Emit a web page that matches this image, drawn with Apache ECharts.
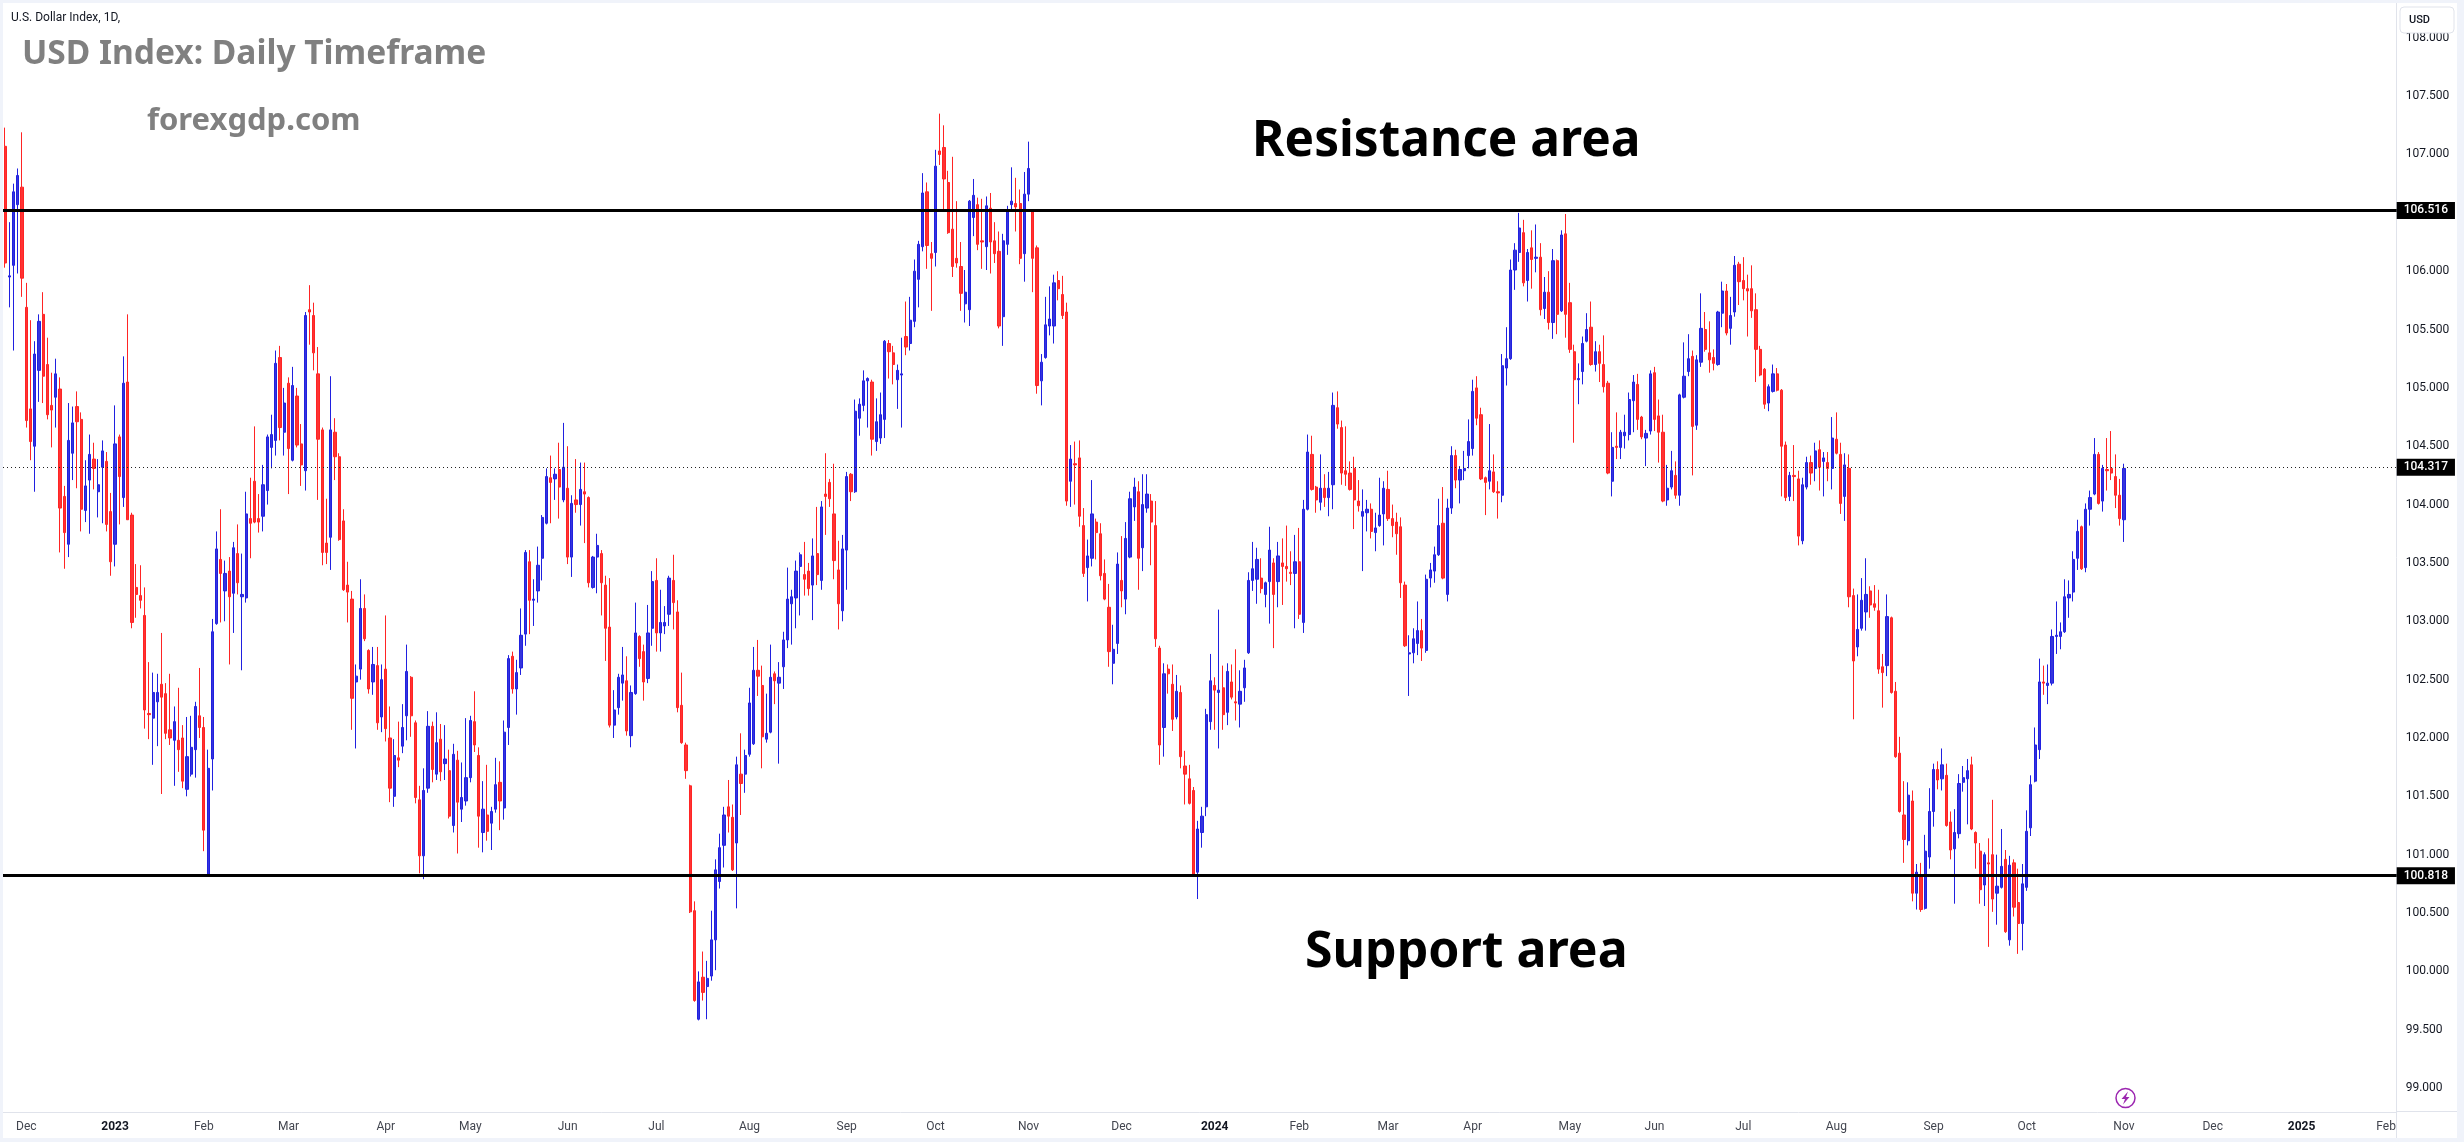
<!DOCTYPE html>
<html>
<head>
    <meta charset="UTF-8">
    <title>USD Index: Daily Timeframe</title>
    <script src="https://cdn.jsdelivr.net/npm/echarts@6/dist/echarts.min.js"></script>
    <style>
        html, body { margin: 0; padding: 0; background: #fff; }
        #main { width: 2464px; height: 1142px; }
    </style>
</head>
<body>
<div id="main"></div>
<script>
    // open, close, low, high of each daily bar
    var opens = [
        107.07,105.95,106.05,106.57,106.72,105.69,104.82,104.50,105.15,105.63,
        105.20,104.85,104.92,104.99,104.07,103.66,104.44,104.84,104.73,103.95,
        104.21,104.39,104.11,104.32,104.37,103.94,103.66,104.58,104.06,105.05,
        103.91,103.29,103.22,103.05,102.21,102.17,102.31,102.46,102.38,102.07,
        101.98,101.98,102.00,101.56,101.69,101.90,102.19,102.09,100.83,101.82,
        102.98,103.53,103.26,103.43,103.24,103.58,103.21,103.20,103.88,104.20,
        103.88,103.90,104.12,104.49,104.55,105.26,104.62,105.04,104.38,104.93,
        104.52,104.29,105.67,105.62,105.12,104.64,103.67,103.72,104.62,104.41,
        103.86,103.31,103.19,102.48,102.59,103.11,102.75,102.48,102.62,102.18,
        102.59,102.00,101.50,101.83,101.93,102.19,102.52,102.13,101.47,100.99,
        101.57,102.10,101.69,101.99,101.78,101.72,101.25,101.81,101.39,101.46,
        101.66,102.14,101.85,101.19,101.34,101.27,101.39,101.62,101.40,102.09,
        102.70,102.42,102.60,102.89,103.51,103.18,103.26,103.54,103.84,104.23,
        104.22,104.30,104.04,104.14,103.55,104.04,104.00,104.11,104.06,103.29,
        103.55,103.58,103.31,102.95,102.11,102.26,102.47,102.49,102.02,102.38,
        102.87,102.74,102.51,102.94,103.35,102.90,102.96,103.06,103.35,103.08,
        102.28,101.94,101.59,100.52,99.59,99.95,99.87,99.96,100.27,100.77,
        101.08,101.41,101.32,101.10,101.69,101.69,101.86,101.95,102.58,102.45,
        101.99,102.05,102.55,102.47,102.61,102.84,103.15,103.20,103.47,103.40,
        103.43,103.31,103.58,103.35,104.09,104.19,103.92,103.44,103.09,103.61,
        104.26,104.11,104.74,104.85,105.06,105.05,104.54,104.57,104.73,105.38,
        105.30,105.07,105.11,105.44,105.38,105.57,105.93,106.21,106.68,106.15,
        106.16,107.03,107.06,106.76,106.36,106.11,106.04,105.72,105.67,106.46,
        106.57,106.26,106.21,106.54,106.26,106.17,105.61,106.23,106.57,106.58,
        106.58,106.15,106.66,106.51,106.20,105.06,105.26,105.53,105.53,105.92,
        105.80,105.65,104.20,104.35,104.40,103.82,103.46,103.54,103.85,103.75,
        103.41,103.12,102.64,102.81,103.35,103.19,103.55,103.98,104.11,103.63,
        103.97,104.03,103.82,102.77,102.09,102.59,102.46,102.18,102.39,101.76,
        101.65,101.55,100.85,101.19,101.41,102.14,102.45,102.39,102.43,102.22,
        102.48,102.31,102.29,102.43,102.73,103.35,103.36,103.37,103.23,103.34,
        103.50,103.34,103.50,103.47,103.42,103.41,103.51,102.99,103.96,104.43,
        104.15,104.02,104.14,104.06,104.17,104.83,104.66,104.29,104.27,104.31,
        104.03,103.90,103.93,103.96,103.76,103.82,103.92,104.13,103.88,103.85,
        103.81,103.31,102.72,102.73,102.81,102.92,102.75,103.37,103.43,103.57,
        103.84,103.23,103.97,104.42,104.21,104.29,104.42,104.48,105.00,104.77,
        104.23,104.20,104.28,104.11,104.08,105.17,105.25,106.01,106.16,106.33,
        105.92,106.20,106.11,106.12,105.68,105.82,105.56,106.09,105.66,106.32,
        105.73,105.31,105.07,105.14,105.40,105.52,105.20,105.31,105.20,105.04,
        104.20,104.50,104.49,104.59,104.60,104.89,105.03,104.75,104.57,104.63,
        105.13,104.76,104.62,104.04,104.15,104.25,104.08,104.92,105.14,105.27,
        104.68,105.22,105.50,105.30,105.26,105.20,105.64,105.83,105.51,105.65,
        106.06,105.92,105.85,105.85,105.67,105.33,105.16,104.87,104.97,105.12,
        104.98,104.51,104.07,104.25,104.22,103.69,104.15,104.36,104.31,104.47,
        104.37,104.36,104.31,104.56,104.43,104.07,104.31,103.22,102.78,102.94,
        103.08,103.26,103.15,103.09,102.61,102.62,103.03,102.40,101.87,101.34,
        101.12,101.46,100.67,100.81,100.54,100.98,101.37,101.73,101.65,101.68,
        101.28,101.05,101.18,101.62,101.65,101.77,101.19,101.03,100.74,100.93,
        101.00,100.67,100.72,100.96,100.27,100.93,100.59,100.41,100.72,101.23,
        101.63,101.90,102.48,102.45,102.47,102.87,102.87,102.91,103.20,103.25,
        103.54,103.81,103.46,103.96,104.09,104.43,104.03,104.30,104.31,104.24,
        104.08,103.87
    ];
    var closes = [
        106.07,105.96,106.68,106.82,105.94,104.72,104.54,105.29,105.57,105.10,
        104.77,104.81,105.12,103.97,103.76,104.55,104.70,104.71,103.96,104.16,
        104.43,104.31,104.17,104.46,103.83,103.51,104.52,104.24,105.04,103.87,
        102.99,103.23,103.18,102.24,102.20,102.39,102.39,102.35,102.04,102.00,
        102.14,101.90,101.63,101.84,101.92,102.27,102.09,101.21,101.74,102.91,
        103.62,103.41,103.41,103.21,103.63,103.33,103.23,103.92,103.84,103.85,
        103.85,104.17,104.58,104.60,105.21,104.66,104.87,104.48,105.02,104.51,
        104.34,105.62,105.65,105.30,104.56,103.59,103.59,104.64,104.41,103.70,
        103.27,103.25,102.34,102.53,103.11,102.85,102.42,102.63,102.13,102.50,
        102.08,101.57,101.85,101.81,102.09,102.57,102.19,101.49,100.99,101.55,
        102.10,101.73,101.96,101.71,101.82,101.33,101.86,101.45,101.49,101.66,
        102.15,101.94,101.33,101.39,101.20,101.37,101.60,101.46,102.05,102.68,
        102.42,102.56,102.88,103.59,103.18,103.19,103.48,103.89,104.24,104.19,
        104.26,104.15,104.32,103.55,104.01,104.00,104.13,104.09,103.33,103.55,
        103.65,103.33,102.94,102.11,102.24,102.52,102.54,102.06,102.39,102.90,
        102.68,102.48,102.90,103.34,102.90,102.99,102.99,103.37,103.16,102.26,
        101.96,101.72,100.51,99.75,99.91,99.82,99.94,100.27,100.87,101.06,
        101.34,101.33,100.87,101.77,101.61,101.85,102.30,102.58,102.53,102.01,
        102.04,102.52,102.49,102.52,102.84,103.19,103.21,103.43,103.57,103.36,
        103.28,103.56,103.40,103.98,104.07,104.05,103.52,103.15,103.62,104.24,
        104.11,104.80,104.86,105.06,105.08,104.56,104.71,104.77,105.40,105.31,
        105.20,105.15,105.12,105.35,105.58,106.00,106.23,106.67,106.22,106.11,
        106.90,107.00,106.79,106.33,106.04,106.07,105.81,105.82,106.60,106.65,
        106.23,106.25,106.56,106.25,106.15,105.53,106.26,106.52,106.60,106.55,
        106.11,106.66,106.88,106.11,105.02,105.22,105.54,105.59,105.90,105.85,
        105.62,104.03,104.39,104.34,103.90,103.41,103.56,103.92,103.76,103.39,
        103.19,102.74,102.76,103.49,103.26,103.71,104.05,104.15,103.54,104.00,
        104.09,103.85,102.85,101.94,102.55,102.55,102.16,102.40,101.84,101.69,
        101.44,100.83,101.22,101.33,102.20,102.49,102.41,102.41,102.20,102.57,
        102.35,102.30,102.40,102.60,103.35,103.45,103.53,103.28,103.33,103.61,
        103.23,103.56,103.47,103.45,103.41,103.51,103.06,103.96,104.45,104.13,
        104.04,104.14,104.06,104.14,104.85,104.69,104.27,104.26,104.13,104.04,
        103.99,103.94,103.96,103.77,103.80,103.91,104.14,103.88,103.82,103.75,
        103.33,102.79,102.73,102.85,102.92,102.77,103.36,103.44,103.57,103.82,
        103.37,103.97,104.42,104.21,104.30,104.31,104.54,104.97,104.74,104.22,
        104.19,104.29,104.11,104.10,105.19,105.25,106.01,106.18,106.37,105.90,
        106.16,106.10,106.12,105.67,105.82,105.56,106.09,105.63,106.31,105.63,
        105.33,105.07,105.08,105.38,105.50,105.20,105.31,105.21,105.01,104.27,
        104.49,104.49,104.62,104.62,104.90,105.05,104.73,104.58,104.61,105.12,
        104.73,104.62,104.03,104.14,104.29,104.08,104.94,105.10,105.25,104.67,
        105.24,105.51,105.33,105.24,105.21,105.65,105.83,105.47,105.62,106.05,
        105.91,105.85,105.83,105.66,105.33,105.11,104.86,105.01,105.12,104.98,
        104.50,104.06,104.25,104.24,103.73,104.17,104.36,104.27,104.46,104.32,
        104.40,104.31,104.57,104.44,104.01,104.34,103.21,102.66,102.93,103.18,
        103.23,103.14,103.12,102.59,102.56,103.04,102.39,101.84,101.37,101.13,
        101.51,100.67,100.85,100.53,101.03,101.37,101.73,101.64,101.77,101.25,
        101.04,101.19,101.61,101.66,101.72,101.22,101.10,100.70,101.00,100.92,
        100.62,100.73,100.90,100.34,100.91,100.55,100.41,100.75,101.20,101.60,
        101.94,102.48,102.47,102.47,102.87,102.88,102.91,103.21,103.23,103.53,
        103.77,103.45,103.96,104.06,104.43,104.01,104.31,104.29,104.27,104.08,
        103.88,104.31
    ];
    var lows = [
        106.03,105.69,105.32,105.98,105.78,104.66,104.38,104.11,104.88,104.87,
        104.73,104.49,104.66,103.59,103.45,103.55,104.21,104.14,103.77,103.85,
        103.75,104.13,103.89,103.84,103.77,103.39,103.47,103.83,103.98,103.87,
        102.94,103.03,103.11,102.08,101.99,101.77,101.93,101.52,101.99,101.94,
        101.59,101.71,101.57,101.50,101.67,101.66,102.00,101.03,100.82,101.55,
        102.97,102.99,103.00,102.63,102.90,103.23,102.58,103.16,103.54,103.84,
        103.76,103.77,104.00,104.31,104.42,104.55,104.42,104.09,104.37,104.49,
        104.16,104.12,105.37,105.15,104.04,103.48,103.49,103.44,104.21,103.69,
        103.26,102.99,102.07,101.91,102.50,102.83,102.38,102.37,102.07,102.05,
        101.97,101.45,101.41,101.75,101.87,101.98,102.01,101.44,100.84,100.79,
        101.53,101.62,101.64,101.63,101.64,101.31,101.19,101.01,101.28,101.42,
        101.62,101.88,101.06,101.02,101.12,101.04,101.36,101.21,101.30,101.94,
        102.38,102.20,102.54,102.79,102.89,102.96,103.16,103.35,103.83,103.84,
        104.04,103.88,104.02,103.49,103.38,103.93,103.82,103.67,103.29,103.28,
        103.24,103.05,102.66,102.09,102.00,102.20,102.32,102.02,101.92,102.37,
        102.61,102.32,102.47,102.79,102.74,102.74,102.89,102.96,102.93,102.22,
        101.95,101.65,100.50,99.74,99.58,99.75,99.59,99.92,100.01,100.71,
        100.89,101.19,100.86,100.54,101.34,101.53,101.84,101.94,102.36,101.74,
        101.96,102.04,102.29,101.78,102.42,102.77,102.80,102.94,103.05,103.22,
        103.22,103.01,103.31,103.27,103.74,103.98,103.36,102.93,103.00,103.27,
        104.03,104.10,104.59,104.80,104.66,104.42,104.46,104.52,104.57,105.08,
        105.03,104.82,104.66,105.28,105.32,105.52,105.69,106.17,106.02,105.66,
        106.04,106.91,106.51,106.32,105.95,106.03,105.66,105.56,105.53,106.30,
        106.18,106.02,106.01,105.98,106.07,105.51,105.36,106.14,106.51,106.34,
        106.06,105.91,106.60,105.82,104.95,104.85,105.25,105.45,105.38,105.75,
        105.59,103.99,103.98,104.00,103.81,103.38,103.17,103.47,103.53,103.35,
        103.18,102.61,102.46,102.72,103.12,103.06,103.54,103.86,103.27,103.43,
        103.93,103.48,102.78,101.77,101.84,102.38,102.06,102.16,101.74,101.43,
        101.43,100.82,100.62,101.06,101.33,102.07,102.07,101.91,102.07,102.11,
        102.33,102.15,102.09,102.31,102.72,103.26,103.15,103.24,103.12,102.98,
        102.77,103.12,103.14,103.34,103.31,102.94,103.02,102.90,103.95,104.12,
        103.93,103.95,103.98,103.90,103.96,104.65,104.17,104.16,104.12,103.79,
        103.94,103.43,103.77,103.71,103.60,103.81,103.65,103.86,103.72,103.57,
        103.20,102.78,102.36,102.64,102.71,102.66,102.73,103.29,103.33,103.56,
        103.36,103.17,103.92,104.14,104.01,104.21,104.31,104.42,104.68,104.21,
        103.91,104.13,104.10,103.88,104.02,105.02,105.24,105.84,106.08,105.87,
        105.74,105.85,105.99,105.62,105.59,105.50,105.42,105.46,105.65,105.43,
        105.30,104.53,104.86,105.03,105.39,105.19,105.14,105.05,104.96,104.26,
        104.07,104.39,104.39,104.48,104.55,104.62,104.64,104.56,104.33,104.60,
        104.63,104.36,104.02,103.99,104.13,104.05,103.99,104.91,105.10,104.25,
        104.64,105.18,105.31,105.13,105.15,105.19,105.52,105.45,105.37,105.61,
        105.71,105.75,105.44,105.60,105.05,105.10,104.82,104.80,104.96,104.97,
        104.07,104.03,104.03,104.03,103.65,103.66,104.13,104.17,104.20,104.12,
        104.07,104.20,104.13,104.43,103.92,103.86,103.12,102.16,102.70,102.92,
        102.92,103.03,103.09,102.55,102.26,102.53,102.38,101.83,101.36,100.93,
        101.08,100.60,100.53,100.51,100.53,100.88,101.24,101.56,101.55,101.24,
        100.96,100.58,101.14,101.54,101.26,101.21,100.88,100.58,100.56,100.21,
        100.51,100.40,100.71,100.33,100.22,100.47,100.15,100.18,100.69,101.16,
        101.62,101.82,102.37,102.29,102.45,102.72,102.76,102.90,103.03,103.17,
        103.44,103.44,103.42,103.82,104.08,104.00,103.94,104.12,104.21,103.97,
        103.82,103.68
    ];
    var highs = [
        107.23,106.42,106.75,106.88,107.19,105.90,105.58,105.40,105.63,105.82,
        105.43,105.13,105.25,105.09,104.16,104.87,104.84,104.97,104.79,104.38,
        104.60,104.53,104.39,104.55,104.45,104.10,104.85,104.60,105.27,105.63,
        103.93,103.49,103.48,103.29,102.65,102.56,102.55,102.90,102.47,102.55,
        102.27,102.43,102.11,102.18,102.19,102.31,102.60,102.18,101.90,103.02,
        103.77,103.96,103.52,103.55,103.68,103.83,103.58,104.11,104.23,104.67,
        104.09,104.34,104.60,104.77,105.32,105.36,105.00,105.09,105.18,105.00,
        104.69,105.65,105.88,105.73,105.35,104.66,104.05,105.10,104.74,104.44,
        103.96,103.51,103.26,102.63,103.36,103.23,102.76,102.78,102.78,102.63,
        103.05,102.27,101.99,102.14,102.29,102.80,102.53,102.15,101.59,101.74,
        102.23,102.14,102.22,102.12,102.11,101.90,101.95,101.89,101.79,102.17,
        102.19,102.40,101.92,101.63,101.77,101.41,101.83,101.80,102.15,102.71,
        102.74,102.67,103.11,103.61,103.61,103.36,103.64,103.91,104.31,104.42,
        104.31,104.53,104.70,104.50,104.08,104.39,104.36,104.36,104.07,103.56,
        103.75,103.61,103.39,103.37,102.41,102.55,102.78,102.70,102.45,103.16,
        102.88,102.80,103.14,103.43,103.54,103.27,103.13,103.39,103.57,103.18,
        102.56,101.96,101.60,100.60,100.00,100.17,100.09,100.52,100.96,101.18,
        101.41,101.64,101.43,101.84,102.04,101.90,102.43,102.78,102.84,102.62,
        102.38,102.80,102.57,102.65,102.91,103.46,103.27,103.52,103.59,103.68,
        103.50,103.71,103.98,104.03,104.44,104.22,104.35,103.69,103.74,104.28,
        104.27,104.90,104.91,105.15,105.09,105.07,104.91,104.96,105.41,105.41,
        105.36,105.20,105.43,105.74,105.78,106.10,106.26,106.84,106.76,106.25,
        107.04,107.35,107.25,106.86,106.98,106.60,106.25,106.01,106.61,106.79,
        106.63,106.62,106.64,106.67,106.42,106.34,106.32,106.56,106.89,106.80,
        106.70,106.85,107.11,106.52,106.22,105.29,105.78,105.87,105.97,106.00,
        105.96,105.73,104.51,104.54,104.55,103.97,103.70,104.21,103.88,103.84,
        103.53,103.32,102.97,103.59,103.73,103.85,104.11,104.23,104.20,104.26,
        104.26,104.09,104.03,102.79,102.64,102.63,102.63,102.54,102.45,101.89,
        101.77,101.58,101.29,101.41,102.25,102.72,102.52,103.10,102.62,102.64,
        102.63,102.76,102.58,102.67,103.42,103.68,103.63,103.54,103.34,103.81,
        103.54,103.68,103.71,103.82,103.60,103.74,103.80,104.04,104.60,104.59,
        104.16,104.43,104.26,104.28,104.96,104.97,104.72,104.67,104.37,104.41,
        104.21,104.13,104.04,104.01,103.93,104.23,104.20,104.29,104.00,103.93,
        103.89,103.34,102.88,102.94,103.17,103.02,103.40,103.50,103.64,104.05,
        104.15,104.05,104.50,104.47,104.33,104.46,104.73,105.07,105.10,104.83,
        104.24,104.69,104.43,104.20,105.29,105.52,106.10,106.24,106.50,106.44,
        106.19,106.35,106.40,106.24,105.95,106.00,106.19,106.10,106.35,106.49,
        105.90,105.37,105.21,105.44,105.64,105.74,105.40,105.37,105.45,105.06,
        104.62,104.79,104.64,104.77,104.96,105.11,105.12,104.76,104.64,105.15,
        105.18,104.90,104.77,104.34,104.46,104.37,104.95,105.39,105.46,105.32,
        105.28,105.81,105.65,105.57,105.33,105.66,105.91,105.89,105.78,106.13,
        106.08,106.12,105.97,106.05,105.81,105.36,105.17,105.03,105.20,105.17,
        104.99,104.54,104.28,104.51,104.29,104.23,104.41,104.42,104.53,104.55,
        104.45,104.45,104.75,104.79,104.53,104.44,104.43,103.28,103.23,103.37,
        103.54,103.30,103.31,103.27,102.72,103.23,103.04,102.48,102.01,101.63,
        101.62,101.55,100.92,100.93,101.17,101.57,101.78,101.80,101.91,101.78,
        101.37,101.39,101.69,101.76,101.82,101.84,101.20,101.10,101.02,101.14,
        101.47,101.00,101.22,101.04,100.99,100.96,100.88,100.92,101.38,101.68,
        102.09,102.68,102.62,102.63,102.93,103.17,102.99,103.36,103.35,103.60,
        103.87,103.82,104.01,104.12,104.57,104.45,104.34,104.57,104.63,104.43,
        104.22,104.35
    ];

    var barCount = 566;   // bars plus the empty weekdays up to Feb 2025
    var tickIndex = [5, 26, 47, 67, 90, 110, 133, 154, 176, 199, 220, 242, 264, 286, 306, 327, 347, 370, 390, 411, 433, 456, 478, 501, 522, 543, 563];
    var tickLabels = ['Dec', '2023', 'Feb', 'Mar', 'Apr', 'May', 'Jun', 'Jul', 'Aug', 'Sep', 'Oct', 'Nov', 'Dec', '2024', 'Feb', 'Mar', 'Apr', 'May', 'Jun', 'Jul', 'Aug', 'Sep', 'Oct', 'Nov', 'Dec', '2025', 'Feb'];
    var priceTicks = [99, 99.5, 100, 100.5, 101, 101.5, 102, 102.5, 103, 103.5, 104, 104.5, 105, 105.5, 106, 106.5, 107, 107.5, 108];
    var resistance = 106.516;
    var support = 100.818;
    var lastPrice = 104.317;

    var categories = [];
    for (var i = 0; i < barCount; i++) {
        categories.push(String(i));
    }
    var candles = opens.map(function (o, i) {
        return [o, closes[i], lows[i], highs[i]];
    });

    var font = 'Roboto, sans-serif';
    var frameColor = '#f0f3fa';
    var lineColor = '#e0e3eb';

    function levelLine(value, style) {
        return {
            yAxis: value,
            lineStyle: style,
            label: {
                show: true,
                position: 'end',
                distance: 0,
                formatter: value.toFixed(3),
                color: '#fff',
                backgroundColor: '#000',
                fontFamily: font,
                fontSize: 12,
                fontWeight: 500,
                padding: [3, 7, 2, 7]
            }
        };
    }

    var chart = echarts.init(document.getElementById('main'), null, {renderer: 'canvas'});
    chart.setOption({
        animation: false,
        backgroundColor: '#fff',
        grid: {left: 3, right: 67.3, top: 3, bottom: 30},
        xAxis: {
            type: 'category',
            data: categories,
            axisLine: {lineStyle: {color: lineColor}},
            axisTick: {show: false},
            splitLine: {show: false},
            axisLabel: {
                interval: function (index) {
                    return tickIndex.indexOf(index) >= 0;
                },
                formatter: function (value, index) {
                    var text = tickLabels[tickIndex.indexOf(Number(value))];
                    return /^20/.test(text) ? '{year|' + text + '}' : text;
                },
                color: '#42454f',
                fontFamily: font,
                fontSize: 12,
                margin: 9,
                rich: {year: {color: '#131722', fontFamily: font, fontSize: 12, fontWeight: 'bold'}}
            }
        },
        yAxis: {
            type: 'value',
            position: 'right',
            min: 98.795,
            max: 108.298,
            axisLine: {show: true, lineStyle: {color: lineColor}},
            axisTick: {show: false},
            splitLine: {show: false},
            axisLabel: {
                customValues: priceTicks,
                formatter: function (value) {
                    return value.toFixed(3);
                },
                color: '#131722',
                fontFamily: font,
                fontSize: 12,
                margin: 9
            }
        },
        series: [{
            type: 'candlestick',
            data: candles,
            barWidth: 2.7,
            itemStyle: {
                color: '#3535dc',
                color0: '#ff3333',
                borderColor: '#2020e0',
                borderColor0: '#ff2424',
                borderWidth: 1
            },
            markLine: {
                silent: true,
                symbol: 'none',
                animation: false,
                data: [
                    levelLine(resistance, {color: '#000', width: 3, type: 'solid'}),
                    levelLine(support, {color: '#000', width: 3, type: 'solid'}),
                    levelLine(lastPrice, {color: '#222', width: 1, type: [1, 3]})
                ]
            }
        }],
        graphic: [
            // outer frame of the screenshot
            {type: 'rect', z: 50, silent: true, shape: {x: -1, y: -1, width: 2462, height: 1143}, style: {fill: null, stroke: frameColor, lineWidth: 8}},
            // price scale corner: hides the end of the time labels
            {type: 'rect', z: 40, silent: true, shape: {x: 2397, y: 1113, width: 60, height: 25}, style: {fill: '#fff'}},
            {type: 'line', z: 41, silent: true, shape: {x1: 2396.5, y1: 1112, x2: 2396.5, y2: 1138}, style: {stroke: lineColor, lineWidth: 1}},
            {type: 'line', z: 41, silent: true, shape: {x1: 2396, y1: 1111.5, x2: 2457, y2: 1111.5}, style: {stroke: lineColor, lineWidth: 1}},
            // currency button
            {type: 'rect', z: 42, silent: true, shape: {x: 2400, y: 7, width: 54, height: 26, r: 4}, style: {fill: '#fff', stroke: lineColor, lineWidth: 1}},
            {type: 'text', z: 43, silent: true, style: {x: 2409, y: 20, text: 'USD', fill: '#131722', font: '500 11px ' + font, textVerticalAlign: 'middle'}},
            // texts drawn on the chart
            {type: 'text', z: 30, silent: true, style: {x: 11, y: 18, text: 'U.S. Dollar Index, 1D,', fill: '#131722', font: '12px ' + font, textVerticalAlign: 'middle'}},
            {type: 'text', z: 30, silent: true, style: {x: 22, y: 54, text: 'USD Index: Daily Timeframe', fill: '#808080', font: 'bold 33.5px "Noto Sans", sans-serif', textVerticalAlign: 'middle'}},
            {type: 'text', z: 30, silent: true, style: {x: 147, y: 121, text: 'forexgdp.com', fill: '#808080', font: 'bold 31px "Noto Sans", sans-serif', textVerticalAlign: 'middle'}},
            {type: 'text', z: 30, silent: true, style: {x: 1252, y: 142, text: 'Resistance area', fill: '#000', font: 'bold 49.6px "Noto Sans", sans-serif', textVerticalAlign: 'middle'}},
            {type: 'text', z: 30, silent: true, style: {x: 1305, y: 953, text: 'Support area', fill: '#000', font: 'bold 50px "Noto Sans", sans-serif', textVerticalAlign: 'middle'}},
            // alert marker
            {type: 'circle', z: 30, silent: true, shape: {cx: 2125.5, cy: 1098, r: 9.5}, style: {fill: '#fff', stroke: '#9c27b0', lineWidth: 1.5}},
            {type: 'polygon', z: 31, silent: true, shape: {points: [[2128, 1091.5], [2121.5, 1099], [2125, 1099], [2123, 1104.5], [2129.5, 1097], [2126, 1097]]}, style: {fill: '#9c27b0'}}
        ]
    });
</script>
</body>
</html>
